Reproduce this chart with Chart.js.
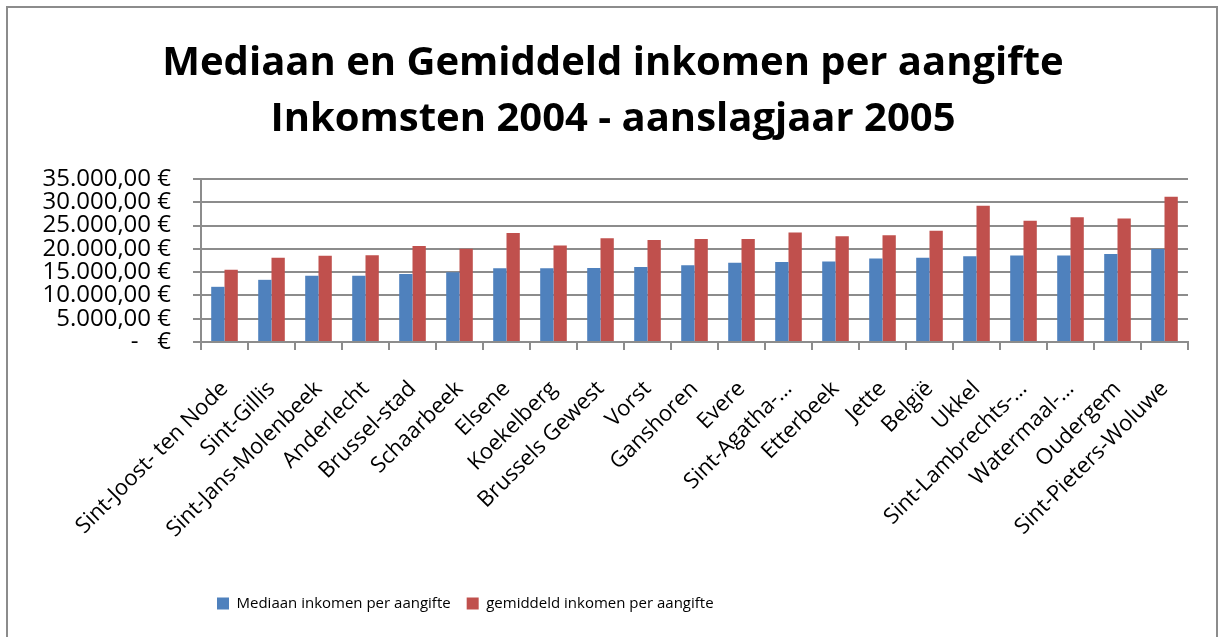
<!DOCTYPE html>
<html>
<head>
<meta charset="utf-8">
<script src="https://cdn.jsdelivr.net/npm/chart.js@4.4.1/dist/chart.umd.min.js"></script>
<style>
html,body{margin:0;padding:0;background:#fff;}
#wrap{position:relative;width:1221px;height:637px;}
</style>
</head>
<body>
<div id="wrap"><canvas id="c" width="1221" height="637"></canvas></div>
<script>
const categories = ["Sint-Joost- ten Node","Sint-Gillis","Sint-Jans-Molenbeek","Anderlecht","Brussel-stad","Schaarbeek","Elsene","Koekelberg","Brussels Gewest","Vorst","Ganshoren","Evere","Sint-Agatha-…","Etterbeek","Jette","België","Ukkel","Sint-Lambrechts-…","Watermaal-…","Oudergem","Sint-Pieters-Woluwe"];
const mediaan = [11850,13350,14250,14250,14600,15000,15850,15850,15900,16100,16500,17000,17200,17300,17950,18100,18400,18600,18600,18900,19950];
const gemiddeld = [15500,18100,18500,18650,20600,20000,23400,20700,22300,21900,22100,22100,23500,22700,22900,23900,29250,26050,26800,26500,31200];
const yTicks = [0,5000,10000,15000,20000,25000,30000,35000];
const titleLines = ["Mediaan en Gemiddeld inkomen per aangifte","Inkomsten 2004 - aanslagjaar 2005"];
const seriesNames = ["Mediaan inkomen per aangifte","gemiddeld inkomen per aangifte"];

function fmtEuro(v){
  if(v===0) return "-   €";
  const s = Math.round(v).toString().replace(/\B(?=(\d{3})+(?!\d))/g,".");
  return s + ",00 €";
}

const FONT = "'Open Sans', 'Noto Sans', sans-serif";
const GRID = "#8c8c8c";

const borderPlugin = {
  id:'frame',
  beforeDraw(chart){
    const ctx = chart.ctx;
    ctx.save();
    ctx.fillStyle = '#fff';
    ctx.fillRect(0,0,chart.width,chart.height);
    ctx.strokeStyle = GRID;
    ctx.lineWidth = 2;
    ctx.strokeRect(7,7,1210,650);
    ctx.restore();
  }
};

new Chart(document.getElementById('c'), {
  type:'bar',
  data:{
    labels:categories,
    datasets:[
      {label:seriesNames[0], data:mediaan, backgroundColor:'#4F81BD', borderWidth:0, categoryPercentage:0.566, barPercentage:1.0},
      {label:seriesNames[1], data:gemiddeld, backgroundColor:'#C0504D', borderWidth:0, categoryPercentage:0.566, barPercentage:1.0}
    ]
  },
  plugins:[borderPlugin],
  options:{
    responsive:false,
    animation:false,
    devicePixelRatio:1,
    layout:{padding:{left:38,right:33,top:0,bottom:16}},
    plugins:{
      title:{display:true,text:titleLines,color:'#000',font:{family:FONT,size:40,weight:'bold',lineHeight:1.4},padding:{top:36,bottom:31}},
      legend:{position:'bottom',align:'start',fullSize:false,labels:{color:'#000',font:{family:FONT,size:15},boxWidth:12,boxHeight:12,padding:16}},
      tooltip:{enabled:false}
    },
    scales:{
      x:{
        offset:true,
        afterFit(s){ s.height = 238; },
        grid:{display:true,offset:true,drawOnChartArea:false,drawTicks:true,tickLength:8,color:GRID,lineWidth:2},
        border:{display:true,color:GRID,width:2},
        ticks:{color:'#000',font:{family:FONT,size:22},minRotation:45,maxRotation:45,autoSkip:false,padding:26}
      },
      y:{
        min:0,max:35000,
        afterFit(s){ s.width = 163; },
        afterBuildTicks(s){ s.ticks = yTicks.map(v=>({value:v})); },
        grid:{color:GRID,lineWidth:2,tickLength:8},
        border:{display:true,color:GRID,width:2},
        ticks:{color:'#000',font:{family:FONT,size:24},padding:22,autoSkip:false,callback:(v)=>fmtEuro(v)}
      }
    }
  }
});
</script>
</body>
</html>
